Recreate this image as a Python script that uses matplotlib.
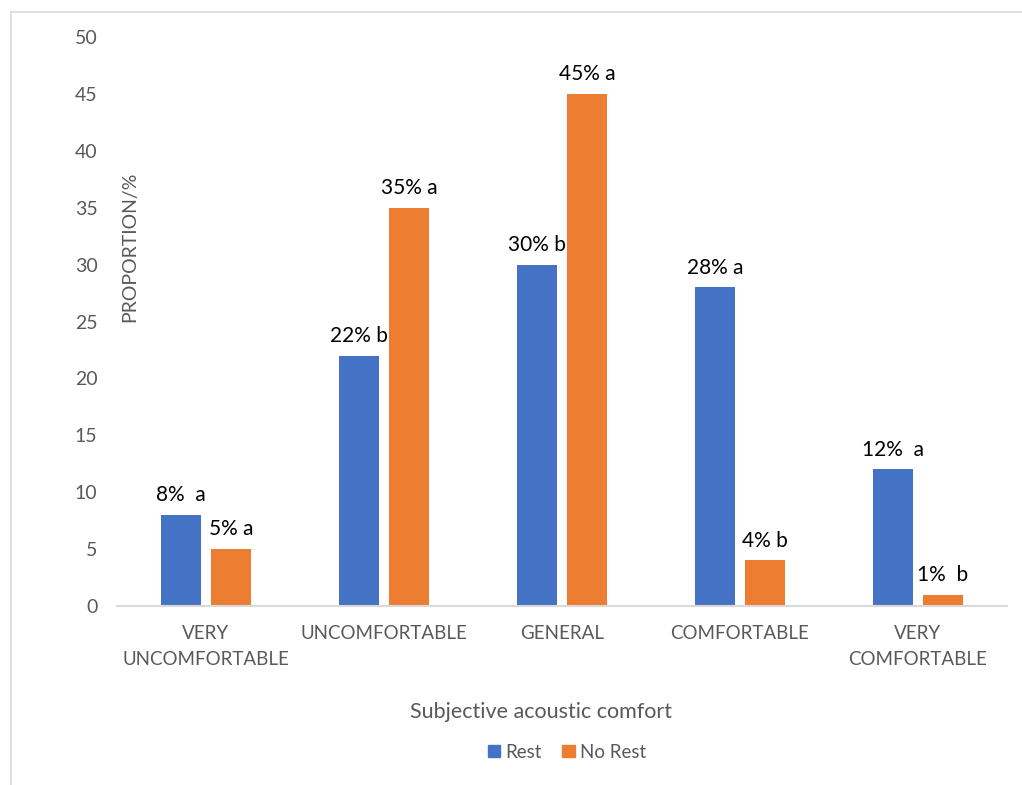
"""Grouped bar chart: subjective acoustic comfort, Rest vs No Rest."""

import matplotlib

matplotlib.use("Agg")
import matplotlib.pyplot as plt  # noqa: E402
import numpy as np  # noqa: E402
from matplotlib.lines import Line2D  # noqa: E402
from matplotlib.patches import Patch  # noqa: E402

categories = ["VERY\nUNCOMFORTABLE", "UNCOMFORTABLE", "GENERAL", "COMFORTABLE", "VERY\nCOMFORTABLE"]
rest = [8, 22, 30, 28, 12]
no_rest = [5, 35, 45, 4, 1]
rest_labels = ["8%  a", "22% b", "30% b", "28% a", "12%  a"]
no_rest_labels = ["5% a", "35% a", "45% a", "4% b", "1%  b"]
yticks = [0, 5, 10, 15, 20, 25, 30, 35, 40, 45, 50]

BLUE = "#4472C4"
ORANGE = "#ED7D31"
GRAY = "#595959"

plt.rcParams["font.family"] = ["Lato", "DejaVu Sans"]

W, H = 1022, 785
fig = plt.figure(figsize=(W / 100, H / 100), dpi=100)
ax = fig.add_axes([117 / W, 1 - 606 / H, 890 / W, 569 / H])

x = np.arange(len(categories))
bw = 0.225
off = 0.14
b1 = ax.bar(x - off, rest, bw, color=BLUE, label="Rest")
b2 = ax.bar(x + off, no_rest, bw, color=ORANGE, label="No Rest")

for bars, labels in ((b1, rest_labels), (b2, no_rest_labels)):
    for rect, lab in zip(bars, labels):
        ax.annotate(lab, (rect.get_x() + rect.get_width() / 2, rect.get_height()),
                    xytext=(0, 7), textcoords="offset points",
                    ha="center", va="bottom", fontsize=15, color="black")

ax.set_xlim(-0.5, len(categories) - 0.5)
ax.set_ylim(0, 50)
ax.set_yticks(yticks)
ax.set_xticks(x)
ax.set_xticklabels(categories, fontsize=13.5, color=GRAY, linespacing=1.6)
ax.tick_params(axis="y", labelsize=14, colors=GRAY, length=0, pad=14)
ax.tick_params(axis="x", length=0, pad=14)

for side in ("top", "right", "left"):
    ax.spines[side].set_visible(False)
ax.spines["bottom"].set_color("#D9D9D9")
ax.spines["bottom"].set_linewidth(1.5)

fig.text(130 / W, 1 - 247 / H, "PROPORTION/%", rotation=90, ha="center", va="center",
         fontsize=14, color=GRAY)
fig.text(541 / W, 1 - 712 / H, "Subjective acoustic comfort", ha="center", va="center",
         fontsize=15.5, color=GRAY)

handles = [Patch(color=BLUE, label="Rest"), Patch(color=ORANGE, label="No Rest")]
fig.legend(handles=handles, loc="center", bbox_to_anchor=(567 / W, 1 - 752 / H), ncol=2,
           frameon=False, fontsize=13.5, labelcolor=GRAY, handlelength=0.65, handleheight=0.65,
           handletextpad=0.3, columnspacing=1.1)

# light chart-area border (left and top edges visible)
fig.add_artist(Line2D([11 / W, 11 / W], [0, 1 - 12 / H], transform=fig.transFigure,
                      color="#D9D9D9", linewidth=1.2))
fig.add_artist(Line2D([11 / W, 1], [1 - 12 / H, 1 - 12 / H], transform=fig.transFigure,
                      color="#D9D9D9", linewidth=1.2))

fig.savefig("out.png", dpi=100, facecolor="white")
